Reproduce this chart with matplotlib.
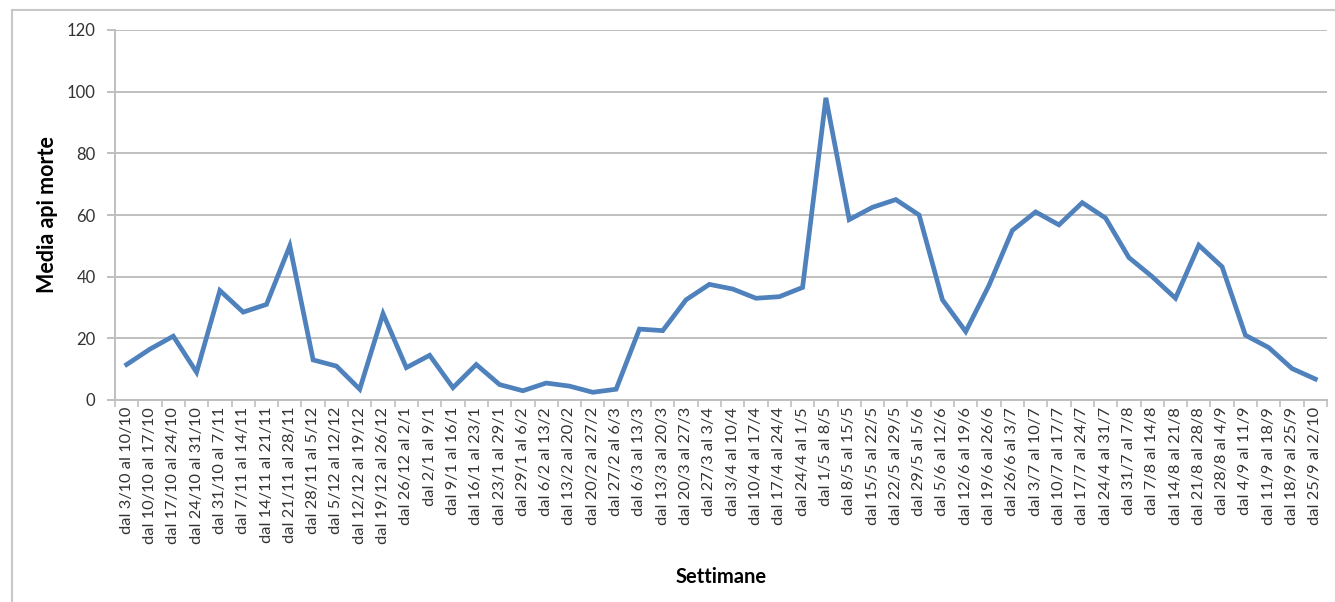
import matplotlib
matplotlib.use("Agg")
import matplotlib.pyplot as plt
from matplotlib.patches import Rectangle
import numpy as np

# Weekly periods (x categories)
settimane = [
    'dal 3/10 al 10/10', 'dal 10/10 al 17/10', 'dal 17/10 al 24/10', 'dal 24/10 al 31/10',
    'dal 31/10 al 7/11', 'dal 7/11 al 14/11', 'dal 14/11 al 21/11', 'dal 21/11 al 28/11',
    'dal 28/11 al 5/12', 'dal 5/12 al 12/12', 'dal 12/12 al 19/12', 'dal 19/12 al 26/12',
    'dal 26/12 al 2/1', 'dal 2/1 al 9/1', 'dal 9/1 al 16/1', 'dal 16/1 al 23/1',
    'dal 23/1 al 29/1', 'dal 29/1 al 6/2', 'dal 6/2 al 13/2', 'dal 13/2 al 20/2',
    'dal 20/2 al 27/2', 'dal 27/2 al 6/3', 'dal 6/3 al 13/3', 'dal 13/3 al 20/3',
    'dal 20/3 al 27/3', 'dal 27/3 al 3/4', 'dal 3/4 al 10/4', 'dal 10/4 al 17/4',
    'dal 17/4 al 24/4', 'dal 24/4 al 1/5', 'dal 1/5 al 8/5', 'dal 8/5 al 15/5',
    'dal 15/5 al 22/5', 'dal 22/5 al 29/5', 'dal 29/5 al 5/6', 'dal 5/6 al 12/6',
    'dal 12/6 al 19/6', 'dal 19/6 al 26/6', 'dal 26/6 al 3/7', 'dal 3/7 al 10/7',
    'dal 10/7 al 17/7', 'dal 17/7 al 24/7', 'dal 24/4 al 31/7', 'dal 31/7 al 7/8',
    'dal 7/8 al 14/8', 'dal 14/8 al 21/8', 'dal 21/8 al 28/8', 'dal 28/8 al 4/9',
    'dal 4/9 al 11/9', 'dal 11/9 al 18/9', 'dal 18/9 al 25/9', 'dal 25/9 al 2/10',
]

# Average dead bees per week
media_api_morte = [
    11.5, 16.5, 20.7, 9.0, 35.5, 28.5, 31.0, 50.0,
    13.0, 11.0, 3.5, 28.0, 10.5, 14.5, 4.0, 11.5,
    5.0, 3.0, 5.5, 4.5, 2.5, 3.5, 23.0, 22.5,
    32.5, 37.5, 36.0, 33.0, 33.5, 36.5, 98.0, 58.5,
    62.5, 65.0, 60.0, 32.5, 22.2, 37.2, 55.0, 61.0,
    56.8, 64.0, 59.0, 46.2, 40.0, 33.0, 50.2, 43.2,
    21.0, 17.0, 10.2, 6.8,
]

y_ticks = [0, 20, 40, 60, 80, 100, 120]

plt.rcParams['font.family'] = ['Lato', 'DejaVu Sans']

fig = plt.figure(figsize=(13.35, 6.02), dpi=100)
fig.patch.set_facecolor('white')

# light outer frame like the spreadsheet chart area
fig.patches.append(Rectangle((12 / 1335, -0.05), 1.1, 1 - 10 / 602 + 0.05,
                             transform=fig.transFigure, fill=False,
                             edgecolor='#c8c8c8', linewidth=1.5))

ax = fig.add_axes([115 / 1335, 1 - 400 / 602, 1212 / 1335, 370 / 602])

x = np.arange(len(settimane))
ax.plot(x, media_api_morte, color='#4F81BD', linewidth=3.4,
        solid_joinstyle='miter', zorder=3)

ax.set_xlim(-0.5, len(settimane) - 0.5)
ax.set_ylim(0, 120)
ax.set_yticks(y_ticks)
ax.yaxis.grid(True, color='#bfbfbf', linewidth=1.4)
ax.set_axisbelow(True)

ax.set_xticks(x)
ax.set_xticklabels(settimane, rotation=90, fontsize=11.8, color='#333333')
ax.set_xticks(np.arange(-0.5, len(settimane), 1.0), minor=True)
ax.tick_params(axis='x', which='major', length=0, pad=5)
ax.tick_params(axis='x', which='minor', length=5, color='#bfbfbf', width=1.2)
ax.tick_params(axis='y', length=6, color='#bfbfbf', width=1.4,
               labelsize=12, labelcolor='#333333', pad=8)

for side in ['top', 'right']:
    ax.spines[side].set_visible(False)
for side in ['left', 'bottom']:
    ax.spines[side].set_color('#bfbfbf')
    ax.spines[side].set_linewidth(1.4)

ax.set_ylabel('Media api morte', fontsize=15.5, fontweight='bold', labelpad=6)
ax.set_xlabel('Settimane', fontsize=14.5, fontweight='bold', labelpad=17)

plt.savefig('out.png', dpi=100)
